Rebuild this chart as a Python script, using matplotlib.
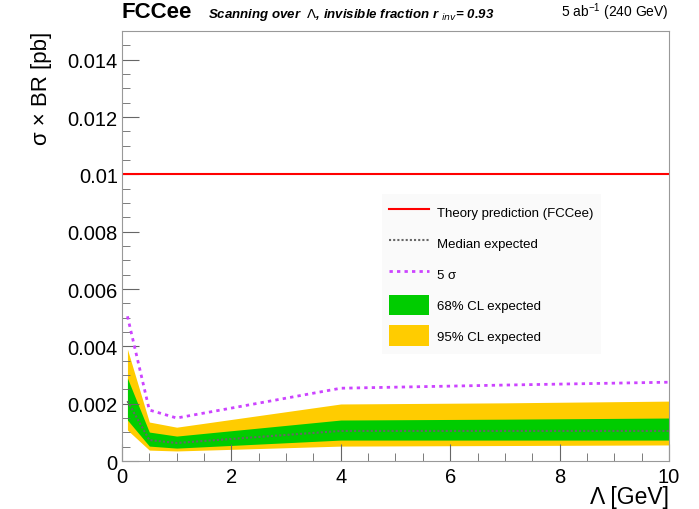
import matplotlib
matplotlib.use("Agg")
import matplotlib.pyplot as plt
from matplotlib.lines import Line2D
from matplotlib.patches import Patch
from matplotlib.ticker import MultipleLocator, FuncFormatter

plt.rcParams['font.family'] = ['Liberation Sans', 'DejaVu Sans']

# scan points
lam = [0.1, 0.5, 1.0, 4.0, 7.0, 10.0]
median = [0.00209, 0.00073, 0.00063, 0.00105, 0.00105, 0.00105]
g_lo = [0.00143, 0.00052, 0.00045, 0.00073, 0.00073, 0.00073]
g_hi = [0.00289, 0.00101, 0.00087, 0.00143, 0.00146, 0.00150]
y_lo = [0.00108, 0.00038, 0.00035, 0.00052, 0.00054, 0.00056]
y_hi = [0.00390, 0.00136, 0.00118, 0.00199, 0.00203, 0.00209]
five_sigma = [0.00505, 0.00178, 0.00150, 0.00254, 0.00265, 0.00275]
theory = 0.01

fig = plt.figure(figsize=(6.99, 5.10), dpi=100)
ax = fig.add_axes([0.1745, 0.0941, 0.7825, 0.8429])

ax.fill_between(lam, y_lo, y_hi, color='#ffcc00', lw=0)
ax.fill_between(lam, g_lo, g_hi, color='#00cc00', lw=0)
ax.plot(lam, median, color='#666666', ls=(0, (1, 1)), lw=1.5)
ax.plot(lam, five_sigma, color='#cc44ff', ls=(0, (1.2, 1.5)), lw=2)
ax.axhline(theory, color='#ff0000', lw=1.5)

ax.set_xlim(0, 10)
ax.set_ylim(0, 0.015)
ax.xaxis.set_major_locator(MultipleLocator(2))
ax.xaxis.set_minor_locator(MultipleLocator(0.5))
ax.yaxis.set_major_locator(MultipleLocator(0.002))
ax.yaxis.set_minor_locator(MultipleLocator(0.0005))
ax.yaxis.set_major_formatter(FuncFormatter(lambda v, p: '0' if abs(v) < 1e-9 else ('%g' % round(v, 4))))
ax.tick_params(which='both', direction='in', labelsize=14.5, color='#666666')
ax.tick_params(which='major', length=12)
ax.tick_params(axis='y', which='major', pad=3)
ax.tick_params(axis='x', which='major', pad=4)
ax.tick_params(which='minor', length=6)
for s in ax.spines.values():
    s.set_color('#999999')

ax.set_xlabel('Λ [GeV]', fontsize=16.5, ha='right')
ax.xaxis.set_label_coords(1.0, -0.055)
ax.set_ylabel('σ × BR [pb]', fontsize=16, ha='right')
ax.yaxis.set_label_coords(-0.128, 1.0)

handles = [
    Line2D([], [], color='#ff0000', lw=1.5),
    Line2D([], [], color='#666666', ls=(0, (1, 1)), lw=1.5),
    Line2D([], [], color='#cc44ff', ls=(0, (1.2, 1.5)), lw=2),
    Patch(facecolor='#00cc00'),
    Patch(facecolor='#ffcc00'),
]
labels = ['Theory prediction (FCCee)', 'Median expected', '5 σ',
          '68% CL expected', '95% CL expected']
ax.legend(handles, labels, loc='upper left', bbox_to_anchor=(0.4625, 0.637),
          fontsize=9.5, frameon=True, facecolor='#fafafa', edgecolor='none',
          framealpha=1, fancybox=False, handlelength=3.0, handleheight=2.0,
          labelspacing=0.8, handletextpad=0.6, borderpad=0.6)

fig.text(0.1745, 0.955, 'FCCee', fontsize=16, fontweight='bold', ha='left', va='bottom')
fig.text(0.298, 0.955, r'Scanning over  $\Lambda$, invisible fraction r $_{inv}$= 0.93',
         fontsize=9.5, fontstyle='italic', fontweight='bold', ha='left', va='bottom')
fig.text(0.957, 0.955, r'5 ab$^{\mathregular{-1}}$ (240 GeV)', fontsize=10, ha='right', va='bottom')

fig.savefig('out.png', dpi=100)
